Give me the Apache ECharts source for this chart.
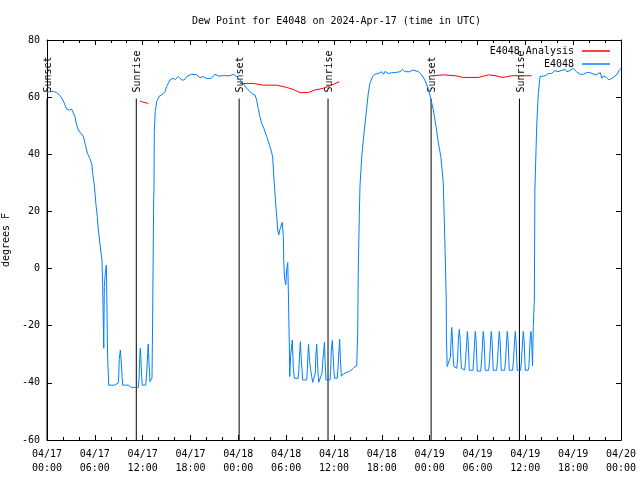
<!DOCTYPE html>
<html>
<head>
<meta charset="utf-8">
<script src="https://cdn.jsdelivr.net/npm/echarts@6/dist/echarts.min.js"></script>
<style>html,body{margin:0;padding:0;background:#fff;}#c{width:640px;height:480px;}</style>
</head>
<body>
<div id="c"></div>
<script>
// ---- Data (hours since 2024-04-17 00:00 UTC) ----
const titleText = 'Dew Point for E4048 on 2024-Apr-17 (time in UTC)';
const yName = 'degrees F';
const xTickDays = ['04/17', '04/18', '04/19', '04/20'];

const dewHours = [
  0.0,0.3,0.8,1.2,1.6,2.0,2.26,2.47,2.8,3.1,3.3,3.5,3.7,3.93,4.3,4.56,4.8,5.06,5.3,5.6,5.75,5.9,
  6.02,6.15,6.31,6.44,6.56,6.73,6.9,6.98,7.07,7.12,7.19,7.3,7.44,7.5,7.6,7.74,8.5,8.7,8.95,9.0,9.06,
  9.2,9.3,9.42,9.5,10.2,10.4,10.6,11.45,11.55,11.63,11.7,11.78,11.87,11.96,12.38,12.5,12.63,12.7,
  12.8,12.92,13.05,13.17,13.25,13.38,13.42,13.46,13.58,13.76,14.09,14.39,14.8,15.0,15.43,15.77,
  16.1,16.47,16.9,17.2,17.6,18.15,18.78,19.2,19.6,20.0,20.6,21.07,21.5,21.7,22.1,22.95,23.37,23.8,
  24.2,24.6,25.05,25.46,25.8,26.1,26.3,26.5,26.7,26.93,27.2,27.56,27.9,28.1,28.3,28.4,28.5,28.6,
  28.73,28.85,28.94,29.07,29.2,29.35,29.5,29.65,29.7,29.8,29.95,30.07,30.2,30.27,30.4,30.45,30.55,
  30.77,30.9,31.03,31.5,31.6,31.7,31.78,31.9,31.98,32.07,32.57,32.65,32.74,32.8,32.93,33.05,33.2,
  33.33,33.57,33.65,33.74,33.83,33.92,34.0,34.08,34.33,34.5,34.6,34.7,34.8,34.88,35.0,35.5,35.58,
  35.66,35.79,35.88,35.98,36.08,36.4,36.5,36.63,36.71,36.8,36.92,37.17,37.4,37.84,38.2,38.5,38.85,
  38.97,39.05,39.18,39.26,39.48,39.68,39.8,39.97,40.1,40.3,40.5,40.85,41.14,41.56,41.98,42.2,42.4,
  42.8,43.2,43.86,44.3,44.6,44.9,45.5,45.9,46.6,47.0,47.4,47.8,48.13,48.46,48.8,49.1,49.4,49.7,
  49.9,50.08,50.1,50.2,50.45,50.6,50.7,50.77,50.85,50.95,51.05,51.4,51.5,51.6,51.72,51.82,51.97,
  52.2,52.4,52.5,52.65,52.73,52.83,52.97,53.43,53.52,53.65,53.73,53.83,53.97,54.4,54.52,54.65,
  54.73,54.83,54.97,55.4,55.52,55.65,55.73,55.83,55.97,56.4,56.52,56.66,56.74,56.84,56.98,57.4,
  57.52,57.66,57.74,57.84,57.98,58.4,58.52,58.66,58.74,58.84,58.98,59.4,59.52,59.67,59.75,59.85,
  59.99,60.35,60.45,60.6,60.7,60.8,60.9,61.0,61.13,61.2,61.43,61.63,61.84,62.05,62.5,62.9,63.3,
  63.7,64.1,64.5,65.0,65.2,65.6,66.0,66.4,66.9,67.3,67.7,68.1,68.5,68.9,69.4,69.6,69.8,70.2,70.5,
  71.0,71.5,71.8,72.0
];
const dewValues = [
  61.8,61.9,62.0,61.6,60.7,59.0,57.2,55.8,55.5,55.8,54.5,53.2,50.5,48.5,47.2,46.2,43.5,40.4,39.0,36.9,33,30,
  26.4,22.2,18.2,13.5,10.7,6.5,3.0,-5.8,-20.3,-27.9,-6.3,-2,1.2,-9.2,-30.3,-40.8,-40.8,-40.4,-40,-37.3,-31.8,
  -28.5,-32,-37.8,-40.8,-40.8,-41.3,-41.6,-41.6,-38.4,-31.4,-27.9,-31.4,-37.8,-40.8,-40.8,-36.9,-29.7,-26.4,
  -33.2,-39.6,-39.2,-38.3,-18,24.3,27.5,47.9,54.9,58.4,60.4,60.7,61.9,63.7,66.0,66.6,
  66.2,67.2,66.0,66.0,67.4,68.0,67.8,66.8,67.2,66.5,66.6,68.0,67.4,68.0,67.5,67.5,68.0,67.2,
  66.0,64.8,63.1,61.9,61.0,60.7,59.0,56.0,53.2,50.8,49.1,46.2,43.3,41.5,39.2,34.5,30.0,26.4,
  21.1,17.0,13.5,11.8,13.5,13.6,16.2,11.2,2.4,-3.4,-5.7,-0.5,2.1,-7.5,-27.3,-37.8,-30.8,
  -25.0,-34.9,-38.4,-38.4,-34.9,-29.1,-25.6,-32.0,-34.9,-39.0,-39.0,-35.6,-29.7,-26.5,-32.1,-35.0,-37.8,
  -39.8,-39.8,-36.6,-29.9,-26.5,-32.1,-36.6,-39.8,-39.6,-36.6,-32.0,-29.3,-25.8,-32.1,-39.0,-39.0,-35.6,
  -28.5,-25.2,-29.7,-35.6,-38.4,-38.4,-34.9,-28.5,-24.8,-31.4,-37.6,-37.3,-36.5,-36.1,-35.5,-34.6,-34.1,
  -22.7,0.9,19.3,29,39.2,45.0,48.5,52.6,56.1,61.3,64.8,67.2,68.0,68.3,68.9,68.0,69.0,
  68.3,68.5,68.7,68.9,69.7,68.9,68.9,69.5,68.9,67.8,66.0,63.1,59.6,55.5,49.7,43.8,39.2,30.4,
  10,-11,-24.4,-34.3,-34.3,-31,-24,-20.6,-24,-31,-34.3,-34.9,-32,-24.8,-21.3,-24.8,-34.9,
  -35.2,-35.5,-32.4,-25.6,-22,-25.6,-35.6,-35.6,-32,-25,-22,-25.6,-35.9,-35.9,-32,-25,
  -22,-25.6,-35.6,-35.6,-32,-25,-22,-25.6,-35.6,-35.6,-32,-25,-22,-25.6,-35.6,-35.6,
  -32,-25,-22,-25.6,-35.6,-35.6,-32,-25,-22,-25.6,-35.6,-35.6,-32,-25,-22,-25.6,
  -35.6,-35.6,-34.3,-24.8,-22,-26,-34,-20.3,-11,27.5,50.2,61.3,67.2,67.8,67.5,68.3,68.3,
  69.3,68.9,69.3,69.7,68.9,69.3,70.1,68.9,68.0,68.0,68.6,68.6,68.1,67.8,68.6,66.6,67.4,66.9,66.0,
  66.8,68.0,69.5,70.0
];

const analysisHours = [
  11.67,12.0,12.7, 18,
  24.2,25.9,27.1,28.8,30.07,30.9,31.74,32.78,33.6,34.66,35.7,36.67, 42,
  48.46,49.7,51.2,52.2,54.1,55.4,56.2,57.2,58.3,60.8
];
const analysisValues = [
  58.6,58.3,57.8, null,
  64.8,64.8,64.2,64.2,63.4,62.7,61.6,61.6,62.5,63.1,64.2,65.4, null,
  67.5,67.8,67.5,66.9,66.9,67.8,67.5,66.9,67.5,67.5
];

const sunHours = [0.0, 11.2, 24.1, 35.25, 48.18, 59.26];
const sunLabels = ['Sunset', 'Sunrise', 'Sunset', 'Sunrise', 'Sunset', 'Sunrise'];
const sunLineTop = 59.5;

// ---- Chart ----
const FONT = 'DejaVu Sans Mono';
const dewData = dewHours.map((h, i) => [h, dewValues[i]]);
const anaData = analysisHours.map((h, i) => [h, analysisValues[i] == null ? '-' : analysisValues[i]]);
const sunData = sunHours.map((h, i) => [h, sunLineTop, i]);

function xLabel(v) {
  const d = Math.floor(v / 24);
  const hh = String(Math.round(v - d * 24)).padStart(2, '0');
  return xTickDays[d] + '\n' + hh + ':00';
}

const axisCommon = {
  axisLine: { show: true, onZero: false, lineStyle: { color: '#000', width: 1 } },
  axisTick: { show: true, inside: true, length: 5, lineStyle: { color: '#000' } },
  splitLine: { show: false }
};

const legendText = { fontFamily: FONT, fontSize: 10, color: '#000', padding: [0, 3, 0, 0] };

const chart = echarts.init(document.getElementById('c'), null, { renderer: 'canvas' });
chart.setOption({
  animation: false,
  backgroundColor: '#fff',
  textStyle: { fontFamily: FONT },
  title: {
    text: titleText, left: 187, top: 10,
    textStyle: { fontFamily: FONT, fontSize: 10, fontWeight: 'normal', color: '#000', lineHeight: 12 }
  },
  legend: [
    {
      data: ['E4048 Analysis'], right: 30, top: 46, align: 'right', orient: 'vertical', padding: 0,
      icon: 'rect', itemWidth: 28, itemHeight: 1.5, itemGap: 0, textStyle: legendText
    },
    {
      data: ['E4048'], right: 30, top: 59, align: 'right', orient: 'vertical', padding: 0,
      icon: 'rect', itemWidth: 28, itemHeight: 1.5, itemGap: 0, textStyle: legendText
    }
  ],
  grid: { left: 47, right: 19, top: 40, bottom: 40, containLabel: false, outerBoundsMode: 'none' },
  xAxis: [
    Object.assign({}, axisCommon, {
      type: 'value', position: 'bottom', min: 0, max: 72, interval: 6,
      minorTick: { show: true, splitNumber: 3, length: 3, lineStyle: { color: '#000' } },
      axisLabel: { formatter: xLabel, fontFamily: FONT, fontSize: 10, color: '#000', margin: 7, lineHeight: 14 }
    }),
    Object.assign({}, axisCommon, {
      type: 'value', position: 'top', min: 0, max: 72, interval: 6,
      minorTick: { show: true, splitNumber: 3, length: 3, lineStyle: { color: '#000' } },
      axisLabel: { show: false }
    })
  ],
  yAxis: [
    Object.assign({}, axisCommon, {
      type: 'value', position: 'left', min: -60, max: 80, interval: 20,
      name: yName, nameLocation: 'middle', nameGap: 27,
      nameTextStyle: { fontFamily: FONT, fontSize: 10, color: '#000' },
      axisLabel: { fontFamily: FONT, fontSize: 10, color: '#000', margin: 7 }
    }),
    Object.assign({}, axisCommon, {
      type: 'value', position: 'right', min: -60, max: 80, interval: 20,
      axisLabel: { show: false }
    })
  ],
  series: [
    {
      name: 'Sun', type: 'custom', xAxisIndex: 0, yAxisIndex: 0, clip: false, z: 1,
      data: sunData, encode: { x: 0, y: 1 },
      renderItem: function (params, api) {
        const h = api.value(0);
        const idx = api.value(2);
        const top = api.coord([h, api.value(1)]);
        const bot = api.coord([h, -60]);
        return {
          type: 'group',
          children: [
            { type: 'line', shape: { x1: bot[0], y1: bot[1], x2: top[0], y2: top[1] },
              style: { stroke: '#000', lineWidth: 1 } },
            { type: 'text', x: top[0] + 1.5, y: top[1] - 6, rotation: Math.PI / 2,
              style: { text: sunLabels[idx], font: '10px "' + FONT + '"', align: 'left',
                       verticalAlign: 'middle', fill: '#000' } }
          ]
        };
      }
    },
    {
      name: 'E4048 Analysis', type: 'line', data: anaData, symbol: 'none', showSymbol: false,
      connectNulls: false, color: '#ff0000', lineStyle: { color: '#ff0000', width: 1 }, z: 3
    },
    {
      name: 'E4048', type: 'line', data: dewData, symbol: 'none', showSymbol: false,
      color: '#0080ff', lineStyle: { color: '#0080ff', width: 1 }, z: 2
    }
  ]
});
</script>
</body>
</html>
